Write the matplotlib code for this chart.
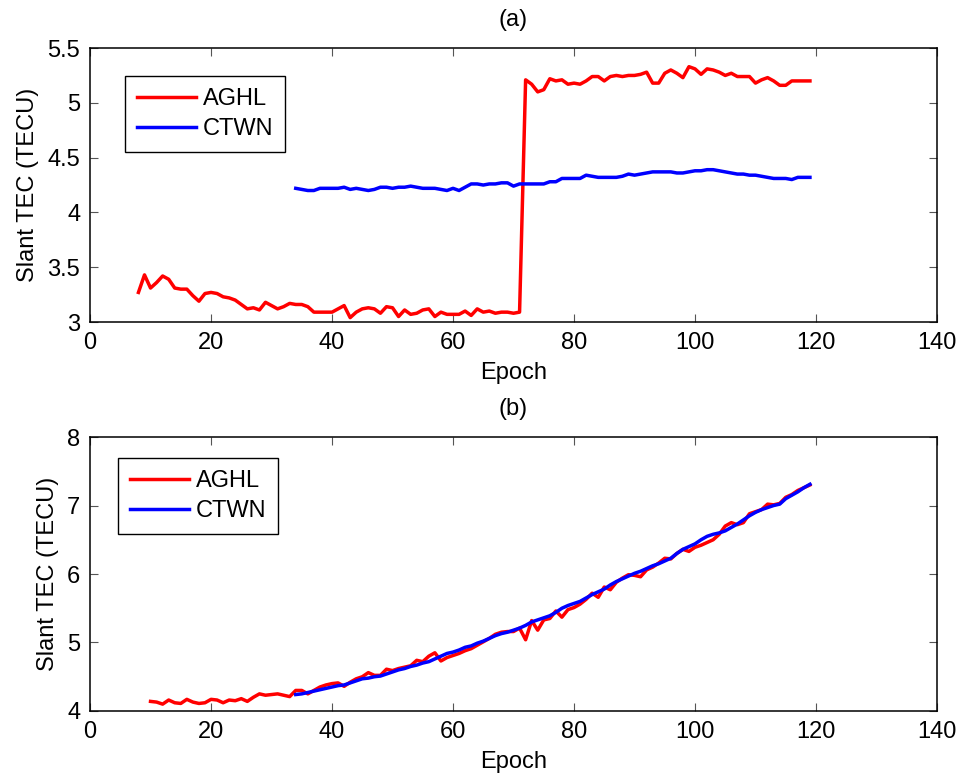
import matplotlib
matplotlib.use('Agg')
import matplotlib.pyplot as plt
import numpy as np
from matplotlib.ticker import FormatStrFormatter

plt.rcParams['font.family'] = ['Liberation Sans', 'DejaVu Sans']

# --- panel (a) data ---
a_red_start = 8
a_red = [3.27, 3.43, 3.31, 3.36, 3.42, 3.39, 3.31, 3.30, 3.30, 3.24,
         3.19, 3.26, 3.27, 3.26, 3.23, 3.22, 3.20, 3.16, 3.12, 3.13,
         3.11, 3.18, 3.15, 3.12, 3.14, 3.17, 3.16, 3.16, 3.14, 3.09,
         3.09, 3.09, 3.09, 3.12, 3.15, 3.04, 3.09, 3.12, 3.13, 3.12,
         3.08, 3.14, 3.13, 3.05, 3.11, 3.07, 3.08, 3.11, 3.12, 3.05,
         3.09, 3.07, 3.07, 3.07, 3.10, 3.06, 3.12, 3.09, 3.10, 3.08,
         3.09, 3.09, 3.08, 3.09, 5.21, 5.17, 5.10, 5.12, 5.22, 5.20,
         5.21, 5.17, 5.18, 5.17, 5.20, 5.24, 5.24, 5.20, 5.24, 5.25,
         5.24, 5.25, 5.25, 5.26, 5.28, 5.18, 5.18, 5.27, 5.30, 5.27,
         5.23, 5.33, 5.31, 5.26, 5.31, 5.30, 5.28, 5.25, 5.27, 5.24,
         5.24, 5.24, 5.18, 5.21, 5.23, 5.20, 5.16, 5.16, 5.20, 5.20,
         5.20, 5.20]

a_blue_start = 34
a_blue = [4.22, 4.21, 4.20, 4.20, 4.22, 4.22, 4.22, 4.22, 4.23, 4.21,
          4.22, 4.21, 4.20, 4.21, 4.23, 4.23, 4.22, 4.23, 4.23, 4.24,
          4.23, 4.22, 4.22, 4.22, 4.21, 4.20, 4.22, 4.20, 4.23, 4.26,
          4.26, 4.25, 4.26, 4.26, 4.27, 4.27, 4.24, 4.26, 4.26, 4.26,
          4.26, 4.26, 4.28, 4.28, 4.31, 4.31, 4.31, 4.31, 4.34, 4.33,
          4.32, 4.32, 4.32, 4.32, 4.33, 4.35, 4.34, 4.35, 4.36, 4.37,
          4.37, 4.37, 4.37, 4.36, 4.36, 4.37, 4.38, 4.38, 4.39, 4.39,
          4.38, 4.37, 4.36, 4.35, 4.35, 4.34, 4.34, 4.33, 4.32, 4.31,
          4.31, 4.31, 4.30, 4.32, 4.32, 4.32]

# --- panel (b) data ---
b_red_start = 10
b_red = [4.14, 4.13, 4.10, 4.16, 4.12, 4.11, 4.17, 4.13, 4.11, 4.12,
         4.17, 4.16, 4.12, 4.16, 4.15, 4.18, 4.14, 4.20, 4.25, 4.23,
         4.24, 4.25, 4.23, 4.21, 4.30, 4.30, 4.25, 4.30, 4.35, 4.38,
         4.40, 4.41, 4.36, 4.42, 4.47, 4.50, 4.56, 4.52, 4.52, 4.61,
         4.59, 4.62, 4.64, 4.66, 4.74, 4.72, 4.80, 4.85, 4.73, 4.78,
         4.81, 4.84, 4.88, 4.91, 4.96, 5.01, 5.06, 5.12, 5.15, 5.16,
         5.16, 5.21, 5.04, 5.32, 5.18, 5.33, 5.35, 5.46, 5.37, 5.48,
         5.51, 5.56, 5.63, 5.72, 5.66, 5.81, 5.77, 5.88, 5.94, 5.99,
         5.98, 5.96, 6.06, 6.10, 6.16, 6.23, 6.22, 6.30, 6.36, 6.33,
         6.39, 6.42, 6.46, 6.50, 6.58, 6.70, 6.75, 6.72, 6.75, 6.88,
         6.91, 6.94, 7.02, 7.01, 7.03, 7.12, 7.16, 7.22, 7.26, 7.30]

b_blue_start = 34
b_blue = [4.24, 4.25, 4.27, 4.29, 4.31, 4.33, 4.35, 4.37, 4.38, 4.41,
          4.44, 4.47, 4.48, 4.50, 4.51, 4.54, 4.57, 4.60, 4.62, 4.65,
          4.67, 4.70, 4.72, 4.76, 4.80, 4.84, 4.86, 4.89, 4.93, 4.95,
          4.99, 5.02, 5.06, 5.10, 5.13, 5.15, 5.18, 5.21, 5.25, 5.30,
          5.33, 5.36, 5.39, 5.44, 5.50, 5.54, 5.57, 5.60, 5.65, 5.70,
          5.74, 5.78, 5.84, 5.89, 5.93, 5.97, 6.01, 6.04, 6.08, 6.12,
          6.15, 6.19, 6.23, 6.30, 6.36, 6.40, 6.44, 6.50, 6.55, 6.58,
          6.60, 6.63, 6.68, 6.73, 6.79, 6.85, 6.90, 6.94, 6.97, 7.00,
          7.02, 7.10, 7.15, 7.20, 7.26, 7.31]

labels = ['AGHL', 'CTWN']
FS = 17


def epochs(start, vals):
    return np.arange(start, start + len(vals))


def style_axes(ax, ylim, yticks, title, leg_anchor):
    ax.set_xlim(0, 140)
    ax.set_xticks(np.arange(0, 141, 20))
    ax.set_ylim(*ylim)
    ax.set_yticks(yticks)
    ax.yaxis.set_major_formatter(FormatStrFormatter('%g'))
    ax.tick_params(direction='in', top=True, right=True, labelsize=FS,
                   length=6, width=0.8, color='#555555', pad=7)
    for sp in ax.spines.values():
        sp.set_linewidth(1.1)
    ax.set_xlabel('Epoch', fontsize=FS, labelpad=6)
    ax.set_ylabel('Slant TEC (TECU)', fontsize=FS, labelpad=6)
    ax.set_title(title, fontsize=FS, pad=16)
    leg = ax.legend(loc='upper left', bbox_to_anchor=leg_anchor, borderaxespad=0,
                    fontsize=FS, fancybox=False, edgecolor='black', framealpha=1,
                    handlelength=2.5, handletextpad=0.3, borderpad=0.5,
                    labelspacing=0.35)
    leg.get_frame().set_linewidth(1.0)


fig = plt.figure(figsize=(9.62, 7.75), dpi=100)
ax1 = fig.add_axes([0.0936, 0.5845, 0.8804, 0.3535])
ax2 = fig.add_axes([0.0936, 0.0826, 0.8804, 0.3535])

ax1.plot(epochs(a_red_start, a_red), a_red, color='red', lw=2.5, label=labels[0])
ax1.plot(epochs(a_blue_start, a_blue), a_blue, color='blue', lw=2.5, label=labels[1])
style_axes(ax1, (3, 5.5), np.arange(3, 5.51, 0.5), '(a)', (0.041, 0.898))

ax2.plot(epochs(b_red_start, b_red), b_red, color='red', lw=2.5, label=labels[0])
ax2.plot(epochs(b_blue_start, b_blue), b_blue, color='blue', lw=2.5, label=labels[1])
style_axes(ax2, (4, 8), np.arange(4, 8.1, 1), '(b)', (0.033, 0.923))

fig.savefig('out.png', dpi=100)
